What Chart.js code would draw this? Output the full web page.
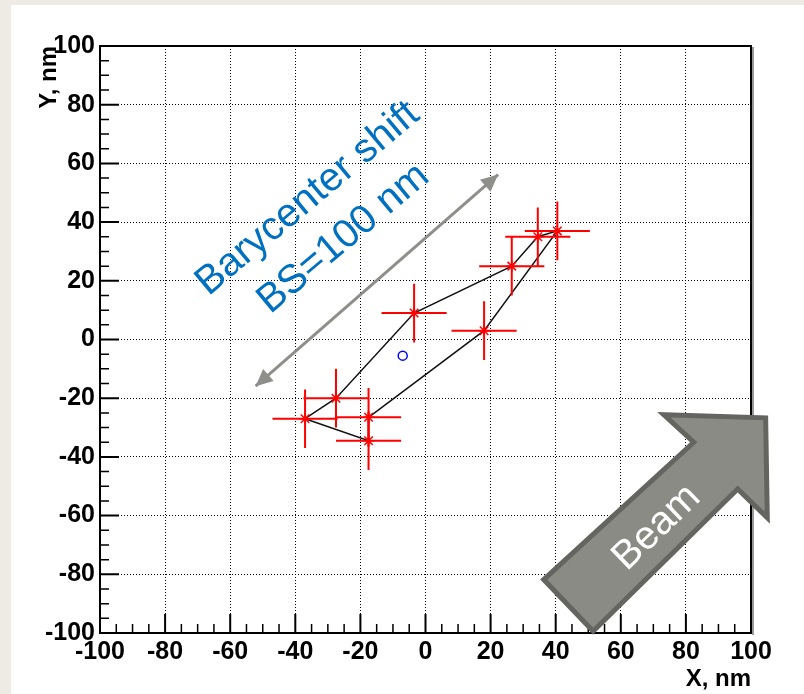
<!DOCTYPE html>
<html>
<head>
<meta charset="utf-8">
<script src="https://cdn.jsdelivr.net/npm/chart.js@4.4.1/dist/chart.umd.min.js"></script>
<style>
  html, body { margin: 0; padding: 0; background: #eeebe4; }
  canvas { display: block; }
</style>
</head>
<body>
<canvas id="scanChart" width="804" height="694"></canvas>
<script>
// measured spot positions, nm
const xVals = [-37, -27.5, -17.5, -17.5, -3.5, 18, 26.5, 34.5, 40.5];
const yVals = [-27, -20, -26.5, -34.5, 9, 3, 25, 35, 37];
const xErr = [10, 10, 10, 10, 10, 10, 10, 10, 10];
const yErr = [10, 10, 10, 10, 10, 10, 10, 10, 10];
// order in which the contour joins the spots
const contourOrder = [0, 1, 4, 6, 7, 8, 5, 2, 3, 0];
// barycenter
const baryX = [-7];
const baryY = [-5.5];

const tickVals = [-100, -80, -60, -40, -20, 0, 20, 40, 60, 80, 100];

// annotations (data units)
const shiftArrowX = [-52.2, 22.3];
const shiftArrowY = [-15.9, 56.2];
const shiftText = ['Barycenter shift', 'BS=100 nm'];
const shiftTextX = [-34.0, -23.0];
const shiftTextY = [45.1, 31.5];
const beamX = [36.3, 51.5, 95.9, 105.0, 104.5, 73.2, 82.4];
const beamY = [-81.8, -99.4, -50.9, -60.7, -26.7, -25.6, -35.0];
const beamText = 'Beam';
const beamTextX = [73.4];
const beamTextY = [-66.8];

const labelFont = "'Liberation Sans Narrow', 'Arial Narrow', 'Liberation Sans', sans-serif";

function getPoints(xs, ys) {
    const output = [];
    for (let i = 0; i < xs.length; ++i) {
        output.push({x: xs[i], y: ys[i]});
    }
    return output;
}

const spots = getPoints(xVals, yVals);
const contour = contourOrder.map(i => ({x: xVals[i], y: yVals[i]}));

const background = {
    id: 'background',
    beforeDraw(chart) {
        const ctx = chart.ctx;
        ctx.save();
        ctx.fillStyle = '#eeebe4';
        ctx.fillRect(0, 0, chart.width, chart.height);
        ctx.fillStyle = '#ffffff';
        ctx.fillRect(11, 5, chart.width - 11, chart.height - 5);
        ctx.restore();
    }
};

const errorBars = {
    id: 'errorBars',
    afterDatasetsDraw(chart) {
        const ctx = chart.ctx;
        const xs = chart.scales.x, ys = chart.scales.y;
        ctx.save();
        ctx.strokeStyle = '#ff0000';
        ctx.lineWidth = 2;
        for (let i = 0; i < xVals.length; i++) {
            const px = xs.getPixelForValue(xVals[i]);
            const py = ys.getPixelForValue(yVals[i]);
            ctx.beginPath();
            ctx.moveTo(xs.getPixelForValue(xVals[i] - xErr[i]), py);
            ctx.lineTo(xs.getPixelForValue(xVals[i] + xErr[i]), py);
            ctx.moveTo(px, ys.getPixelForValue(yVals[i] - yErr[i]));
            ctx.lineTo(px, ys.getPixelForValue(yVals[i] + yErr[i]));
            ctx.stroke();
        }
        ctx.restore();
    }
};

function arrowHead(ctx, x0, y0, x1, y1, len, half) {
    const a = Math.atan2(y1 - y0, x1 - x0);
    ctx.beginPath();
    ctx.moveTo(x1, y1);
    ctx.lineTo(x1 - len * Math.cos(a) + half * Math.sin(a), y1 - len * Math.sin(a) - half * Math.cos(a));
    ctx.lineTo(x1 - len * Math.cos(a) - half * Math.sin(a), y1 - len * Math.sin(a) + half * Math.cos(a));
    ctx.closePath();
    ctx.fill();
}

const frameAndNotes = {
    id: 'frameAndNotes',
    afterDraw(chart) {
        const ctx = chart.ctx;
        const xs = chart.scales.x, ys = chart.scales.y;
        const {left, right, top, bottom} = chart.chartArea;
        ctx.save();

        // frame
        ctx.strokeStyle = '#000';
        ctx.lineWidth = 2;
        ctx.strokeRect(left, top, right - left, bottom - top);
        ctx.strokeStyle = '#9a9a9a';
        ctx.beginPath();
        ctx.moveTo(right + 2, top + 1);
        ctx.lineTo(right + 2, bottom + 2);
        ctx.stroke();

        // inward ticks, major every 20, minor every 5
        ctx.strokeStyle = '#000';
        for (let v = -100; v <= 100; v += 5) {
            const major = v % 20 === 0;
            const len = major ? 19 : 9;
            ctx.lineWidth = major ? 2 : 1.5;
            const px = xs.getPixelForValue(v);
            const py = ys.getPixelForValue(v);
            ctx.beginPath();
            ctx.moveTo(px, bottom);
            ctx.lineTo(px, bottom - len);
            ctx.moveTo(left, py);
            ctx.lineTo(left + len, py);
            ctx.stroke();
        }

        // barycenter shift double arrow
        const ax0 = xs.getPixelForValue(shiftArrowX[0]), ay0 = ys.getPixelForValue(shiftArrowY[0]);
        const ax1 = xs.getPixelForValue(shiftArrowX[1]), ay1 = ys.getPixelForValue(shiftArrowY[1]);
        ctx.strokeStyle = '#8e8e8a';
        ctx.fillStyle = '#8e8e8a';
        ctx.lineWidth = 3;
        ctx.beginPath();
        ctx.moveTo(ax0, ay0);
        ctx.lineTo(ax1, ay1);
        ctx.stroke();
        arrowHead(ctx, ax0, ay0, ax1, ay1, 17, 8);
        arrowHead(ctx, ax1, ay1, ax0, ay0, 17, 8);

        // label
        ctx.fillStyle = '#0070c0';
        ctx.font = "40px 'Liberation Sans', Arial, sans-serif";
        ctx.textAlign = 'center';
        ctx.textBaseline = 'alphabetic';
        for (let i = 0; i < shiftText.length; i++) {
            ctx.save();
            ctx.translate(xs.getPixelForValue(shiftTextX[i]), ys.getPixelForValue(shiftTextY[i]));
            ctx.rotate(-40 * Math.PI / 180);
            ctx.fillText(shiftText[i], 0, 0);
            ctx.restore();
        }

        // beam arrow
        ctx.beginPath();
        for (let i = 0; i < beamX.length; i++) {
            const px = xs.getPixelForValue(beamX[i]);
            const py = ys.getPixelForValue(beamY[i]);
            if (i === 0) ctx.moveTo(px, py); else ctx.lineTo(px, py);
        }
        ctx.closePath();
        ctx.fillStyle = '#8b8b86';
        ctx.fill();
        ctx.strokeStyle = '#646560';
        ctx.lineWidth = 5;
        ctx.lineJoin = 'miter';
        ctx.stroke();

        ctx.save();
        ctx.translate(xs.getPixelForValue(beamTextX[0]), ys.getPixelForValue(beamTextY[0]));
        ctx.rotate(-44 * Math.PI / 180);
        ctx.fillStyle = '#ffffff';
        ctx.font = "40px 'Liberation Sans', Arial, sans-serif";
        ctx.textAlign = 'center';
        ctx.fillText(beamText, 0, 0);
        ctx.restore();

        ctx.restore();
    }
};

const data = {
    datasets: [{
        label: 'barycenter',
        data: getPoints(baryX, baryY),
        pointStyle: 'circle',
        pointRadius: 4.5,
        borderColor: '#0000ff',
        backgroundColor: 'rgba(0,0,0,0)',
        borderWidth: 1.5
    }, {
        label: 'spots',
        data: spots,
        pointStyle: 'star',
        pointRadius: 6,
        borderColor: '#ff0000',
        backgroundColor: '#ff0000',
        borderWidth: 1.5
    }, {
        label: 'contour',
        data: contour,
        showLine: true,
        pointRadius: 0,
        borderColor: '#111111',
        borderWidth: 1.5,
        fill: false
    }]
};

const config = {
    type: 'scatter',
    data,
    options: {
        responsive: false,
        animation: false,
        layout: {
            padding: {left: 11, top: 46, right: 53, bottom: 0}
        },
        plugins: {
            legend: {display: false},
            tooltip: {enabled: false}
        },
        scales: {
            x: {
                type: 'linear',
                min: -100,
                max: 100,
                afterFit: s => { s.height = 61; },
                afterBuildTicks: s => { s.ticks = tickVals.map(v => ({value: v})); },
                ticks: {
                    padding: 4,
                    color: '#000',
                    font: {family: labelFont, size: 25, weight: 'bold'},
                    maxRotation: 0,
                    autoSkip: false
                },
                grid: {color: '#000', lineWidth: 1, drawTicks: false},
                border: {display: false, dash: [1, 2]},
                title: {
                    display: true,
                    text: 'X, nm',
                    align: 'end',
                    color: '#000',
                    font: {family: labelFont, size: 24, weight: 'bold'},
                    padding: {top: 0, bottom: 0}
                }
            },
            y: {
                type: 'linear',
                min: -100,
                max: 100,
                afterFit: s => { s.width = 89; },
                afterBuildTicks: s => { s.ticks = tickVals.map(v => ({value: v})); },
                ticks: {
                    padding: 5,
                    color: '#000',
                    font: {family: labelFont, size: 25, weight: 'bold'},
                    autoSkip: false
                },
                grid: {color: '#000', lineWidth: 1, drawTicks: false},
                border: {display: false, dash: [1, 2]},
                title: {
                    display: true,
                    text: 'Y, nm',
                    align: 'end',
                    color: '#000',
                    font: {family: labelFont, size: 24, weight: 'bold'},
                    padding: {top: 24, bottom: 0}
                }
            }
        }
    },
    plugins: [background, errorBars, frameAndNotes]
};

const scanChart = new Chart(
    document.getElementById('scanChart'),
    config
);
</script>
</body>
</html>
